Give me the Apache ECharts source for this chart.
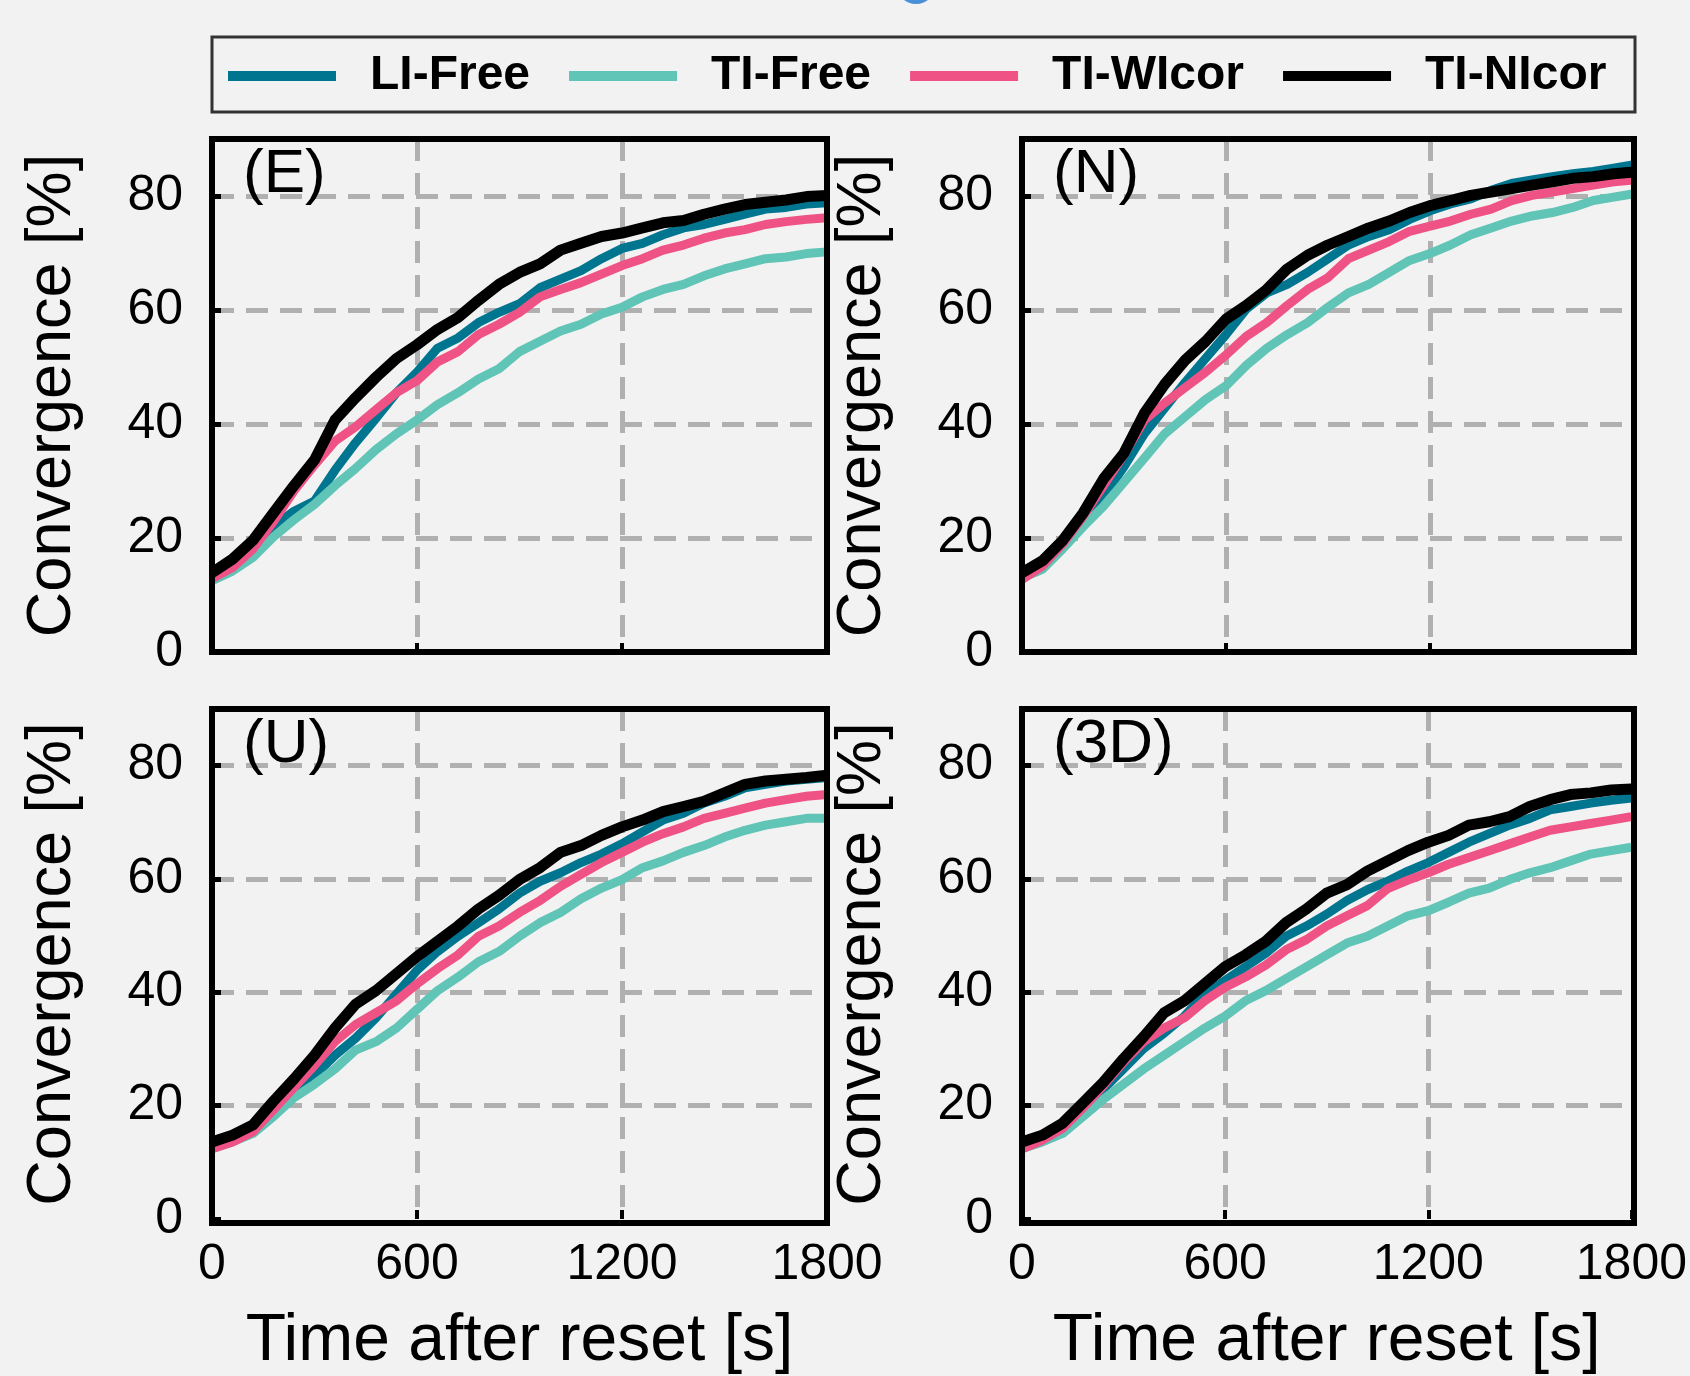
<!DOCTYPE html>
<html>
<head>
<meta charset="utf-8">
<script src="https://cdn.jsdelivr.net/npm/echarts@6/dist/echarts.min.js"></script>
<style>
html, body { margin: 0; padding: 0; background: #f2f2f2; }
#chart { width: 1690px; height: 1376px; }
</style>
</head>
<body>
<div id="chart"></div>
<script>
// time after reset [s], one sample per minute
var times = [0, 60, 120, 180, 240, 300, 360, 420, 480, 540, 600, 660, 720, 780, 840, 900,
    960, 1020, 1080, 1140, 1200, 1260, 1320, 1380, 1440, 1500, 1560, 1620, 1680, 1740, 1800];
var xTicks = [0, 600, 1200, 1800];
var yTicks = [0, 20, 40, 60, 80];
var seriesNames = ['LI-Free', 'TI-Free', 'TI-WIcor', 'TI-NIcor'];
var panelNames = ['(E)', '(N)', '(U)', '(3D)'];

// (E)
var liFreeE = [12.8, 15.1, 17.8, 22.0, 24.7, 26.5, 31.9, 36.7, 41.0, 45.5, 49.1, 53.3, 55.1, 57.8, 59.6, 61.1, 63.9, 65.4, 66.9, 69.0, 70.8, 71.7, 73.2, 74.4, 75.0, 75.9, 76.8, 77.7, 78.0, 78.6, 78.8];
var tiFreeE = [12.5, 14.2, 16.6, 20.2, 23.2, 25.9, 29.2, 32.2, 35.5, 38.3, 40.7, 43.4, 45.5, 47.9, 49.7, 52.7, 54.5, 56.3, 57.5, 59.3, 60.5, 62.3, 63.6, 64.5, 66.0, 67.2, 68.1, 69.0, 69.3, 69.9, 70.2];
var tiWIcorE = [12.9, 14.8, 18.1, 22.9, 28.3, 32.8, 37.0, 39.5, 42.5, 45.5, 47.6, 50.9, 52.7, 55.7, 57.5, 59.6, 62.3, 63.6, 64.8, 66.3, 67.8, 69.0, 70.5, 71.4, 72.6, 73.5, 74.1, 75.0, 75.5, 75.9, 76.2];
var tiNIcorE = [13.9, 16.3, 19.6, 24.4, 29.2, 33.7, 40.7, 44.6, 48.2, 51.5, 53.9, 56.6, 58.7, 61.7, 64.5, 66.6, 68.1, 70.5, 71.7, 72.9, 73.5, 74.4, 75.3, 75.7, 76.8, 77.7, 78.5, 78.9, 79.3, 79.9, 80.1];
// (N)
var liFreeN = [13.0, 15.0, 19.0, 23.2, 27.4, 32.5, 38.3, 42.8, 47.3, 51.5, 55.7, 60.2, 63.0, 64.5, 66.6, 69.0, 71.4, 72.9, 74.1, 75.9, 77.4, 78.6, 79.5, 81.0, 82.2, 82.8, 83.4, 83.9, 84.3, 84.9, 85.5];
var tiFreeN = [13.0, 14.5, 18.1, 22.0, 25.6, 29.8, 34.0, 38.3, 41.3, 44.3, 46.7, 50.3, 53.3, 55.7, 57.8, 60.5, 63.0, 64.5, 66.6, 68.7, 69.9, 71.4, 73.2, 74.4, 75.6, 76.5, 77.1, 78.0, 79.2, 79.8, 80.4];
var tiWIcorN = [12.7, 15.1, 19.0, 23.8, 29.2, 34.6, 40.7, 43.7, 46.4, 49.1, 52.1, 55.4, 57.8, 60.8, 63.6, 65.7, 69.0, 70.5, 72.0, 73.8, 74.7, 75.6, 76.8, 77.7, 79.2, 80.1, 80.7, 81.3, 81.9, 82.5, 82.8];
var tiNIcorN = [13.9, 16.0, 19.6, 24.4, 30.4, 34.9, 41.9, 47.0, 51.2, 54.5, 58.4, 60.8, 63.6, 67.2, 69.6, 71.4, 72.9, 74.4, 75.6, 77.1, 78.3, 79.2, 80.1, 80.7, 81.3, 81.9, 82.5, 83.1, 83.4, 83.9, 84.2];
// (U)
var liFreeU = [12.7, 14.2, 15.4, 19.3, 22.3, 25.3, 28.9, 31.9, 35.5, 39.7, 43.9, 47.2, 49.9, 52.3, 54.7, 57.5, 59.6, 61.1, 62.9, 64.4, 66.2, 68.3, 70.4, 71.6, 73.4, 74.6, 76.1, 76.7, 77.3, 77.6, 77.9];
var tiFreeU = [12.4, 13.6, 15.1, 18.1, 21.4, 23.8, 26.5, 29.8, 31.3, 33.7, 37.0, 40.3, 42.7, 45.4, 47.2, 49.9, 52.3, 54.1, 56.5, 58.4, 59.9, 62.0, 63.2, 64.7, 65.9, 67.4, 68.6, 69.5, 70.1, 70.7, 70.7];
var tiWIcorU = [12.4, 13.6, 15.4, 19.3, 23.2, 27.1, 31.3, 34.3, 36.4, 38.5, 41.5, 44.2, 46.6, 49.9, 51.7, 54.1, 56.2, 58.7, 60.8, 62.9, 64.7, 66.5, 68.0, 69.2, 70.7, 71.6, 72.5, 73.4, 74.0, 74.6, 74.9];
var tiNIcorU = [13.6, 14.8, 16.6, 20.8, 24.7, 28.9, 33.7, 37.9, 40.3, 43.3, 46.3, 49.0, 51.7, 54.7, 57.1, 59.9, 62.0, 64.7, 65.9, 67.7, 69.2, 70.4, 71.9, 72.8, 73.7, 75.2, 76.7, 77.3, 77.6, 77.9, 78.3];
// (3D)
var liFree3D = [12.7, 14.2, 16.0, 19.3, 22.9, 26.5, 30.1, 32.8, 35.8, 39.7, 42.1, 44.5, 46.9, 49.9, 51.7, 53.8, 56.2, 58.1, 59.6, 61.4, 62.9, 64.7, 66.5, 68.0, 69.5, 70.7, 72.2, 72.8, 73.4, 73.9, 74.3];
var tiFree3D = [12.4, 13.6, 15.1, 18.1, 21.1, 23.8, 26.5, 28.9, 31.3, 33.7, 35.8, 38.5, 40.3, 42.4, 44.5, 46.6, 48.7, 49.9, 51.7, 53.5, 54.4, 55.9, 57.5, 58.4, 59.9, 61.1, 62.0, 63.2, 64.4, 65.0, 65.6];
var tiWIcor3D = [12.4, 13.9, 16.0, 19.6, 23.5, 27.7, 31.3, 33.7, 35.5, 38.5, 40.9, 42.7, 44.8, 47.5, 49.3, 51.7, 53.5, 55.3, 58.3, 59.8, 61.1, 62.6, 63.8, 65.0, 66.2, 67.4, 68.6, 69.2, 69.8, 70.4, 71.0];
var tiNIcor3D = [13.6, 14.8, 16.9, 20.5, 24.1, 28.3, 32.2, 36.4, 38.5, 41.5, 44.5, 46.6, 49.0, 52.3, 54.7, 57.5, 59.0, 61.4, 63.2, 65.0, 66.5, 67.7, 69.5, 70.1, 71.0, 72.8, 74.0, 74.9, 75.2, 75.7, 75.9];

var panelData = [
    [liFreeE, tiFreeE, tiWIcorE, tiNIcorE],
    [liFreeN, tiFreeN, tiWIcorN, tiNIcorN],
    [liFreeU, tiFreeU, tiWIcorU, tiNIcorU],
    [liFree3D, tiFree3D, tiWIcor3D, tiNIcor3D]
];

var colors = ['#00758f', '#60c4b6', '#ef5285', '#000000'];
var lineWidths = [9, 9, 9, 11];
var FONT = '"Liberation Sans", Arial, Helvetica, sans-serif';

// panel boxes (px)
var boxes = [
    {left: 212, top: 139, width: 615, height: 513},
    {left: 1022, top: 139, width: 612, height: 513},
    {left: 212, top: 709, width: 615, height: 514},
    {left: 1022, top: 709, width: 612, height: 514}
];

var dom = document.getElementById('chart');
var myChart = echarts.init(dom);

var grids = [], xAxes = [], yAxes = [], series = [], graphics = [];
var gridLine = {color: '#b0b0b0', width: 5, type: [22, 12]};

for (var p = 0; p < 4; p++) {
    var b = boxes[p];
    grids.push({
        left: b.left, top: b.top, width: b.width, height: b.height,
        show: false
    });
    var bottomRow = p >= 2;
    xAxes.push({
        gridIndex: p, type: 'value', min: xTicks[0], max: xTicks[xTicks.length - 1], interval: 600,
        axisLine: {show: false},
        axisTick: {show: true, inside: true, length: 9, lineStyle: {color: '#000', width: 4}},
        axisLabel: {
            show: bottomRow, margin: 21, fontSize: 50, color: '#000', fontFamily: FONT,
            formatter: function (v) { return String(v); }
        },
        splitLine: {show: true, showMinLine: false, showMaxLine: false, lineStyle: gridLine},
        name: bottomRow ? 'Time after reset [s]' : '',
        nameLocation: 'middle', nameGap: 90,
        nameTextStyle: {fontSize: 66, color: '#000', fontFamily: FONT}
    });
    yAxes.push({
        gridIndex: p, type: 'value', min: yTicks[0], max: 90, interval: 20,
        axisLine: {show: false},
        axisTick: {show: true, inside: true, length: 9, lineStyle: {color: '#000', width: 5}},
        axisLabel: {showMaxLabel: false, margin: 29, fontSize: 50, color: '#000', fontFamily: FONT},
        splitLine: {show: true, showMinLine: false, showMaxLine: false, lineStyle: gridLine},
        name: 'Convergence [%]',
        nameLocation: 'middle', nameGap: 128,
        nameTextStyle: {fontSize: 63, color: '#000', fontFamily: FONT}
    });
    for (var s = 0; s < 4; s++) {
        var vals = panelData[p][s];
        series.push({
            name: seriesNames[s],
            type: 'line',
            xAxisIndex: p, yAxisIndex: p,
            data: times.map(function (t, i) { return [t, vals[i]]; }),
            showSymbol: false,
            smooth: false,
            clip: false,
            color: colors[s],
            lineStyle: {color: colors[s], width: lineWidths[s], join: 'round', cap: 'butt'},
            z: 2 + s
        });
    }
    // black frame on top of the lines
    graphics.push({
        type: 'rect', z: 50,
        shape: {x: b.left, y: b.top, width: b.width, height: b.height},
        style: {fill: 'none', stroke: '#000', lineWidth: 6}
    });
    graphics.push({
        type: 'text',
        x: b.left + 31,
        y: b.top + 36,
        z: 100,
        style: {text: panelNames[p], font: '62px ' + FONT, fill: '#000', verticalAlign: 'middle'}
    });
}

// legend frame + small blue mark at the top
graphics.push({
    type: 'rect', z: 100,
    shape: {x: 212, y: 37, width: 1423, height: 75},
    style: {fill: 'none', stroke: '#333', lineWidth: 3}
});
graphics.push({
    type: 'circle', z: 100,
    shape: {cx: 916, cy: -16, r: 20},
    style: {fill: '#4a90d9'}
});

var option = {
    backgroundColor: '#f2f2f2',
    animation: false,
    legend: {
        data: seriesNames,
        left: 228, top: 52, padding: 0,
        itemWidth: 108, itemHeight: 10, itemGap: 39,
        icon: 'rect',
        textStyle: {fontSize: 48, fontWeight: 'bold', color: '#000', fontFamily: FONT, padding: [0, 0, 0, 29]}
    },
    grid: grids,
    xAxis: xAxes,
    yAxis: yAxes,
    series: series,
    graphic: graphics
};

myChart.setOption(option, true);
</script>
</body>
</html>
